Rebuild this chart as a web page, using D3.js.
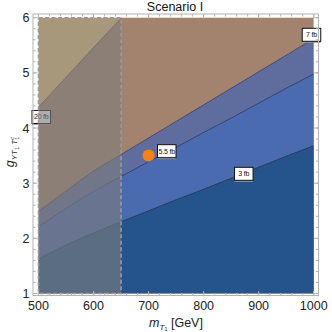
<!DOCTYPE html>
<html>
<head>
<meta charset="utf-8">
<script src="https://cdn.jsdelivr.net/npm/d3@7"></script>
<style>
  body { margin: 0; background: #fff; }
  text { font-family: "Liberation Sans", Arial, sans-serif; }
</style>
</head>
<body>
<div id="chart"></div>
<script>
var mass = [500, 550, 600, 650, 700, 750, 800, 850, 900, 950, 1000];

// coupling g on each cross-section contour
var g20 = [4.38, 4.92, 5.46, 5.99, 6.5, 7.0, 7.5, 8.0, 8.5, 9.0, 9.5];
var g7 = [2.49, 2.86, 3.22, 3.52, 3.82, 4.12, 4.42, 4.72, 5.02, 5.32, 5.62];
var g55 = [2.21, 2.54, 2.85, 3.12, 3.39, 3.65, 3.92, 4.18, 4.45, 4.72, 4.98];
var g3 = [1.63, 1.88, 2.10, 2.30, 2.50, 2.70, 2.89, 3.09, 3.29, 3.49, 3.68];

var contourNames = ["20 fb", "7 fb", "5.5 fb", "3 fb"];
var labelMass = [505, 996, 733, 873];
var labelG = [4.2, 5.69, 3.58, 3.17];

// excluded mass band and benchmark point
var excluded = [500, 650];
var benchMass = [700];
var benchG = [3.5];

var xTicks = [500, 600, 700, 800, 900, 1000];
var yTicks = [1, 2, 3, 4, 5, 6];

var W = 332, H = 332;
var frame = { left: 33, right: 318.5, top: 14, bottom: 295.5 };

var x = d3.scaleLinear().domain([500, 1000]).range([38.5, 313.7]);
var y = d3.scaleLinear().domain([1, 6]).range([293.5, 17.7]);

var svg = d3.select("#chart").append("svg")
  .attr("width", W)
  .attr("height", H);

svg.append("clipPath").attr("id", "plotClip")
  .append("rect")
  .attr("x", x(500)).attr("y", y(6))
  .attr("width", x(1000) - x(500))
  .attr("height", y(1) - y(6));

var plot = svg.append("g").attr("clip-path", "url(#plotClip)");

// background = above the highest contour
plot.append("rect")
  .attr("x", x(500)).attr("y", y(6))
  .attr("width", x(1000) - x(500))
  .attr("height", y(1) - y(6))
  .attr("fill", "#ecc47c");

var layers = [
  { g: g20, fill: "#a3836d" },
  { g: g7, fill: "#5f6d9e" },
  { g: g55, fill: "#4b6bb1" },
  { g: g3, fill: "#25548d" }
];

layers.forEach(function(l) {
  var area = d3.area()
    .x(function(d, i) { return x(mass[i]); })
    .y0(y(1))
    .y1(function(d) { return y(d); })
    .curve(d3.curveMonotoneX);
  plot.append("path")
    .datum(l.g)
    .attr("d", area)
    .attr("fill", l.fill);
});

layers.forEach(function(l) {
  var line = d3.line()
    .x(function(d, i) { return x(mass[i]); })
    .y(function(d) { return y(d); })
    .curve(d3.curveMonotoneX);
  plot.append("path")
    .datum(l.g)
    .attr("d", line)
    .attr("fill", "none")
    .attr("stroke", "rgba(20,20,30,0.55)")
    .attr("stroke-width", 0.8);
});

function drawLabel(i) {
  var cx = x(labelMass[i]), cy = y(labelG[i]);
  var w = 18.5, h = 13;
  var g = svg.append("g");
  g.append("rect")
    .attr("x", cx - w / 2).attr("y", cy - h / 2 + 1.5)
    .attr("width", w).attr("height", h)
    .attr("fill", "#9a9a9a");
  g.append("rect")
    .attr("x", cx - w / 2).attr("y", cy - h / 2)
    .attr("width", w).attr("height", h)
    .attr("fill", "#fff")
    .attr("stroke", "#111")
    .attr("stroke-width", 1);
  g.append("text")
    .attr("x", cx).attr("y", cy + 2.5)
    .attr("text-anchor", "middle")
    .attr("font-size", 7)
    .attr("letter-spacing", -0.2)
    .attr("fill", "#111")
    .text(contourNames[i]);
}

// label under the grey band
drawLabel(0);

// excluded mass window overlay
svg.append("rect")
  .attr("x", x(excluded[0])).attr("y", y(6))
  .attr("width", x(excluded[1]) - x(excluded[0]))
  .attr("height", y(1) - y(6))
  .attr("fill", "rgba(125,125,125,0.62)")
  .attr("stroke", "#999")
  .attr("stroke-width", 1.6)
  .attr("stroke-dasharray", "4,2.5");

drawLabel(1);
drawLabel(2);
drawLabel(3);

svg.selectAll(".bench")
  .data(benchMass)
  .enter().append("circle")
  .attr("class", "bench")
  .attr("cx", function(d) { return x(d); })
  .attr("cy", function(d, i) { return y(benchG[i]); })
  .attr("r", 6)
  .attr("fill", "#f8810f");

// frame
var frameCol = "#b4b4b4";
svg.append("rect")
  .attr("x", frame.left).attr("y", frame.top)
  .attr("width", frame.right - frame.left)
  .attr("height", frame.bottom - frame.top)
  .attr("fill", "none")
  .attr("stroke", frameCol)
  .attr("stroke-width", 1);

var xMinor = d3.range(500, 1001, 20);
var yMinor = d3.range(1, 6.001, 0.2);

function tickSet(vals, major) {
  var len = major ? 4.5 : 2.5;
  vals.forEach(function(v) {
    svg.append("line").attr("x1", x(v)).attr("x2", x(v))
      .attr("y1", frame.bottom).attr("y2", frame.bottom - len)
      .attr("stroke", frameCol);
    svg.append("line").attr("x1", x(v)).attr("x2", x(v))
      .attr("y1", frame.top).attr("y2", frame.top + len)
      .attr("stroke", frameCol);
  });
}
function tickSetY(vals, major) {
  var len = major ? 4.5 : 2.5;
  vals.forEach(function(v) {
    svg.append("line").attr("y1", y(v)).attr("y2", y(v))
      .attr("x1", frame.left).attr("x2", frame.left + len)
      .attr("stroke", frameCol);
    svg.append("line").attr("y1", y(v)).attr("y2", y(v))
      .attr("x1", frame.right).attr("x2", frame.right - len)
      .attr("stroke", frameCol);
  });
}
tickSet(xMinor, false);
tickSet(xTicks, true);
tickSetY(yMinor, false);
tickSetY(yTicks, true);

svg.selectAll(".xlab")
  .data(xTicks)
  .enter().append("text")
  .attr("x", function(d) { return x(d); })
  .attr("y", 310)
  .attr("text-anchor", "middle")
  .attr("font-size", 12.5)
  .attr("fill", "#222")
  .text(function(d) { return d; });

svg.selectAll(".ylab")
  .data(yTicks)
  .enter().append("text")
  .attr("x", 29.5)
  .attr("y", function(d) { return y(d) + 4.5; })
  .attr("text-anchor", "end")
  .attr("font-size", 12.5)
  .attr("fill", "#222")
  .text(function(d) { return d; });

// title
svg.append("text")
  .attr("x", 175).attr("y", 10.5)
  .attr("text-anchor", "middle")
  .attr("font-size", 12.5)
  .attr("fill", "#111")
  .text("Scenario I");

// x axis label
var xl = svg.append("text")
  .attr("x", 176).attr("y", 326.5)
  .attr("text-anchor", "middle")
  .attr("font-size", 12.5)
  .attr("fill", "#222");
xl.append("tspan").attr("font-style", "italic").text("m");
xl.append("tspan").attr("font-style", "italic").attr("font-size", 8).attr("dy", 3).text("T");
xl.append("tspan").attr("font-size", 5.5).attr("dy", 1.5).text("1");
xl.append("tspan").attr("dy", -4.5).text(" [GeV]");

// y axis label
var yl = svg.append("text")
  .attr("transform", "translate(14,152) rotate(-90)")
  .attr("text-anchor", "middle")
  .attr("font-size", 12.5)
  .attr("fill", "#222");
yl.append("tspan").attr("font-style", "italic").text("g");
yl.append("tspan").attr("font-style", "italic").attr("font-size", 8).attr("dy", 3).text("YT");
yl.append("tspan").attr("font-size", 5.5).attr("dy", 1.5).text("1");
yl.append("tspan").attr("font-style", "italic").attr("font-size", 8).attr("dy", -1.5).text(" T");
yl.append("tspan").attr("font-size", 5.5).attr("dy", 1.5).text("1");
yl.append("tspan").attr("font-style", "italic").attr("font-size", 5.5).attr("dx", -3).attr("dy", -5).text("c");
</script>
</body>
</html>
